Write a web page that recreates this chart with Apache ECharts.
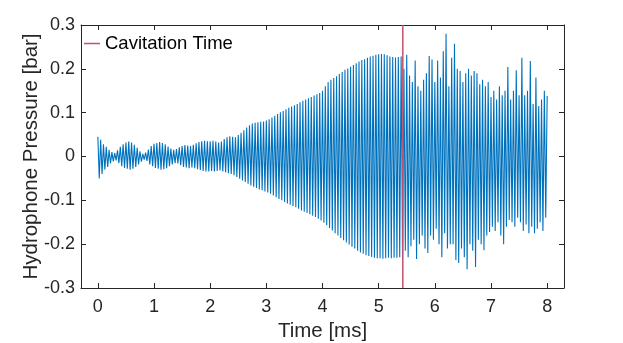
<!DOCTYPE html>
<html>
<head>
<meta charset="utf-8">
<script src="https://cdn.jsdelivr.net/npm/echarts@6/dist/echarts.min.js"></script>
<style>
  html, body { margin: 0; padding: 0; background: #fff; }
  .root { width: 623px; height: 343px; }
</style>
</head>
<body>
<div class="root"></div>
<script>
// hydrophone trace, one peak or trough every 0.025 ms, 0 .. 8 ms
const sampleStep = 0.025
const pressure = [
  // 0 - 1 ms
  0.045, -0.050, 0.038, -0.040, 0.028, -0.030, 0.022, -0.024, 0.015, -0.016,
  0.010, -0.011, 0.008, -0.009, 0.014, -0.015, 0.022, -0.022, 0.028, -0.026,
  0.032, -0.028, 0.034, -0.030, 0.032, -0.028, 0.027, -0.024, 0.020, -0.018,
  0.012, -0.012, 0.006, -0.007, 0.009, -0.010, 0.016, -0.018, 0.024, -0.022,
  // 1 - 2 ms
  0.029, -0.026, 0.031, -0.028, 0.033, -0.030, 0.031, -0.029, 0.028, -0.027,
  0.023, -0.022, 0.018, -0.018, 0.015, -0.015, 0.017, -0.016, 0.021, -0.020,
  0.024, -0.024, 0.026, -0.025, 0.025, -0.027, 0.024, -0.025, 0.027, -0.027,
  0.030, -0.029, 0.033, -0.031, 0.035, -0.033, 0.036, -0.034, 0.035, -0.034,
  // 2 - 3 ms
  0.035, -0.033, 0.036, -0.034, 0.034, -0.033, 0.032, -0.032, 0.034, -0.034,
  0.040, -0.036, 0.044, -0.038, 0.046, -0.040, 0.045, -0.043, 0.044, -0.047,
  0.049, -0.051, 0.054, -0.055, 0.060, -0.058, 0.066, -0.062, 0.071, -0.066,
  0.075, -0.069, 0.077, -0.072, 0.078, -0.075, 0.079, -0.077, 0.080, -0.080,
  // 3 - 4 ms
  0.082, -0.082, 0.085, -0.085, 0.089, -0.089, 0.093, -0.093, 0.097, -0.097,
  0.101, -0.100, 0.104, -0.104, 0.108, -0.107, 0.111, -0.110, 0.114, -0.113,
  0.117, -0.116, 0.120, -0.119, 0.124, -0.123, 0.127, -0.126, 0.130, -0.129,
  0.133, -0.132, 0.136, -0.135, 0.139, -0.138, 0.142, -0.142, 0.145, -0.146,
  // 4 - 5 ms
  0.150, -0.151, 0.160, -0.157, 0.170, -0.163, 0.175, -0.169, 0.179, -0.175,
  0.183, -0.180, 0.188, -0.186, 0.193, -0.191, 0.198, -0.196, 0.201, -0.201,
  0.205, -0.206, 0.209, -0.210, 0.213, -0.215, 0.217, -0.219, 0.220, -0.222,
  0.222, -0.225, 0.225, -0.227, 0.228, -0.229, 0.230, -0.231, 0.232, -0.232,
  // 5 - 6 ms
  0.233, -0.232, 0.234, -0.233, 0.233, -0.232, 0.231, -0.231, 0.228, -0.232,
  0.227, -0.231, 0.226, -0.231, 0.227, -0.230, 0.228, -0.229, 0.200, -0.215,
  0.232, -0.230, 0.185, -0.205, 0.170, -0.190, 0.219, -0.234, 0.160, -0.200,
  0.150, -0.180, 0.175, -0.210, 0.190, -0.220, 0.229, -0.180, 0.221, -0.190,
  // 6 - 7 ms
  0.170, -0.165, 0.219, -0.200, 0.180, -0.230, 0.240, -0.175, 0.280, -0.210,
  0.160, -0.200, 0.225, -0.200, 0.257, -0.236, 0.200, -0.243, 0.195, -0.210,
  0.170, -0.230, 0.190, -0.257, 0.200, -0.200, 0.185, -0.215, 0.195, -0.252,
  0.190, -0.190, 0.165, -0.200, 0.175, -0.214, 0.160, -0.180, 0.170, -0.172,
  // 7 - 8 ms
  0.136, -0.160, 0.150, -0.170, 0.130, -0.150, 0.160, -0.180, 0.140, -0.200,
  0.150, -0.160, 0.204, -0.145, 0.130, -0.150, 0.150, -0.160, 0.197, -0.140,
  0.140, -0.150, 0.225, -0.170, 0.140, -0.155, 0.150, -0.175, 0.218, -0.160,
  0.120, -0.175, 0.180, -0.165, 0.115, -0.150, 0.130, -0.170, 0.150, -0.140,
  0.138
]

const cavitationTime = 5.43
const xTicks = [0, 1, 2, 3, 4, 5, 6, 7, 8]
const yTicks = [-0.3, -0.2, -0.1, 0, 0.1, 0.2, 0.3]
const yTickLabels = ['-0.3', '-0.2', '-0.1', '0', '0.1', '0.2', '0.3']

const BLUE = '#0072BD'
const RED = '#c4506d'
const INK = '#262626'
const FONT = '"Liberation Sans", Arial, Helvetica, sans-serif'
const [xMin, xMax, yMin, yMax] = [-0.3, 8.3, -0.3, 0.3]

const traceData = pressure.map((v, i) => [i * sampleStep, v])

const boxAxis = (extra) => Object.assign({
  type: 'value',
  axisLine: { show: true, onZero: false, lineStyle: { color: INK, width: 1 } },
  splitLine: { show: false },
  axisLabel: { show: false }
}, extra)

const tickStyle = (values) => ({
  show: true, inside: true, length: 5, customValues: values, lineStyle: { color: INK, width: 1 }
})

const option = {
  animation: false,
  textStyle: { fontFamily: FONT },
  grid: { left: 81, right: 59, top: 25, bottom: 55, containLabel: false, outerBoundsMode: 'none' },
  legend: {
    data: ['Cavitation Time'],
    left: 84,
    top: 34,
    padding: 0,
    icon: 'rect',
    itemWidth: 16,
    itemHeight: 1.5,
    textStyle: { fontFamily: FONT, fontSize: 18.5, color: '#000' }
  },
  xAxis: [
    boxAxis({
      position: 'bottom', min: xMin, max: xMax,
      axisTick: tickStyle(xTicks),
      axisLabel: { show: true, customValues: xTicks, margin: 10, color: INK, fontSize: 18, fontFamily: FONT },
      name: 'Time [ms]', nameLocation: 'middle', nameGap: 33, nameMoveOverlap: false,
      nameTextStyle: { color: INK, fontSize: 20.5, fontFamily: FONT }
    }),
    boxAxis({ position: 'top', min: xMin, max: xMax, axisTick: tickStyle(xTicks) })
  ],
  yAxis: [
    boxAxis({
      position: 'left', min: yMin, max: yMax,
      axisTick: tickStyle(yTicks),
      axisLabel: {
        show: true, customValues: yTicks, margin: 6, color: INK, fontSize: 18, fontFamily: FONT,
        formatter: (v) => yTickLabels[yTicks.findIndex(t => Math.abs(t - v) < 1e-9)]
      },
      name: 'Hydrophone Pressure [bar]', nameLocation: 'middle', nameGap: 39, nameMoveOverlap: false,
      nameTextStyle: { color: INK, fontSize: 20.5, fontFamily: FONT }
    }),
    boxAxis({ position: 'right', min: yMin, max: yMax, axisTick: tickStyle(yTicks) })
  ],
  series: [
    {
      name: 'Hydrophone',
      type: 'line',
      data: traceData,
      showSymbol: false,
      symbol: 'none',
      sampling: false,
      lineStyle: { color: BLUE, width: 1.1 },
      itemStyle: { color: BLUE },
      z: 2
    },
    {
      name: 'Cavitation Time',
      type: 'line',
      data: [[cavitationTime, yMin], [cavitationTime, yMax]],
      showSymbol: false,
      symbol: 'none',
      lineStyle: { color: RED, width: 1.5 },
      itemStyle: { color: RED },
      z: 3
    }
  ]
}

const rootEl = document.querySelector('.root')
const chart = echarts.init(rootEl, null, { renderer: 'canvas' })
chart.setOption(option)
</script>
</body>
</html>
